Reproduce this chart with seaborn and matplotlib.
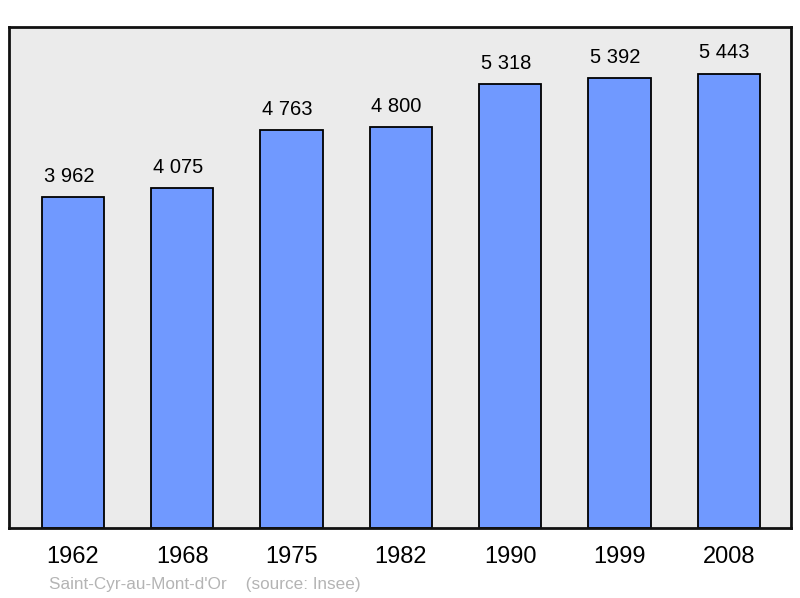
import matplotlib
matplotlib.use('Agg')
import matplotlib.pyplot as plt
import seaborn as sns
import pandas as pd

years = ['1962', '1968', '1975', '1982', '1990', '1999', '2008']
population = [3962, 4075, 4763, 4800, 5318, 5392, 5443]
commune = "Saint-Cyr-au-Mont-d'Or"
source = '(source: Insee)'

df = pd.DataFrame({'year': years, 'pop': population})

sns.set_style('white')
plt.rcParams['font.family'] = ['Liberation Sans', 'DejaVu Sans']
plt.rcParams['text.color'] = 'black'
plt.rcParams['xtick.color'] = 'black'

fig = plt.figure(figsize=(8, 5.98), dpi=100)
ax = fig.add_axes([9 / 800, 70 / 598, 782 / 800, 501 / 598])
ax.set_facecolor('#ebebeb')

sns.barplot(data=df, x='year', y='pop', color='#7099ff', saturation=1,
            width=0.57, edgecolor='black', linewidth=1.3, ax=ax)

labels = [f'{v:,}'.replace(',', ' ') for v in population]
texts = ax.bar_label(ax.containers[0], labels=labels, padding=8,
                     fontsize=14.5, color='black')
# labels sit a little left of the bar centre in the original
for t in texts:
    t.xyann = (-3, 8)

ax.set_xlim(-0.585, 6.57)
ax.set_ylim(0, 6000)
ax.set_yticks([])
ax.set_xlabel('')
ax.set_ylabel('')
ax.tick_params(axis='x', length=0, pad=13, labelsize=17, labelcolor='black')
for s in ax.spines.values():
    s.set_visible(True)
    s.set_linewidth(2)
    s.set_color('#111111')

fig.text(49 / 800, 1 - 585 / 598, commune + '    ' + source,
         fontsize=12.3, color='#b4b4b4', va='center', ha='left')

fig.savefig('out.png', dpi=100)
